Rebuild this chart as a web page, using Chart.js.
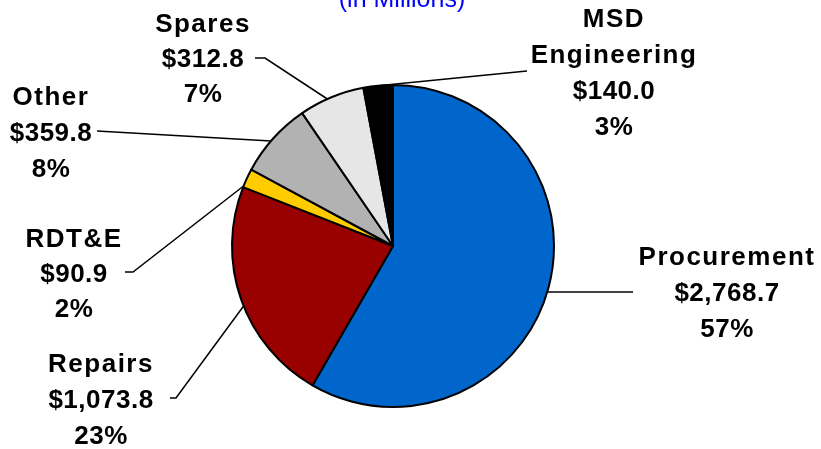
<!DOCTYPE html>
<html>
<head>
<meta charset="utf-8">
<script src="https://cdn.jsdelivr.net/npm/chart.js@4"></script>
<style>
  html, body { margin: 0; padding: 0; background: #fff; }
  #wrap { width: 821px; height: 449px; }
</style>
</head>
<body>
<div id="wrap"><canvas id="pieChart" width="821" height="449"></canvas></div>
<script>
// Data ($ in millions), clockwise from 12 o'clock
const categories = ['Procurement', 'Repairs', 'RDT&E', 'Other', 'Spares', 'MSD Engineering'];
const amounts = [2768.7, 1073.8, 90.9, 359.8, 312.8, 140.0];
const amountLabels = ['$2,768.7', '$1,073.8', '$90.9', '$359.8', '$312.8', '$140.0'];
const percentLabels = ['57%', '23%', '2%', '8%', '7%', '3%'];
const nameLines = [['Procurement'], ['Repairs'], ['RDT&E'], ['Other'], ['Spares'], ['MSD', 'Engineering']];
const subtitle = '(in Millions)';

const sliceColors = ['#0066CC', '#990000', '#FFCC00', '#B2B2B2', '#E6E6E6', '#000000'];

// label placement: text center x, middle of first line, leader path (text end -> elbow),
// and optional hitY = where the leader meets the rim (side: 1 right, -1 left)
const labelLayout = [
    { cx: 727, y: 255, lh: 36, path: [[633, 292]], hitY: 292, side: 1 },
    { cx: 101, y: 362, lh: 36, path: [[170, 398], [176, 398]], hitY: 306, side: -1 },
    { cx: 74,  y: 237, lh: 35, path: [[125, 272], [133, 272]], hitY: 186, side: -1 },
    { cx: 51,  y: 95,  lh: 36, path: [[97, 131]], hitY: 141, side: -1 },
    { cx: 203, y: 22,  lh: 35, path: [[255, 58], [265, 58]], hitY: 99, side: -1 },
    { cx: 614, y: 17,  lh: 36, path: [[527, 71]] }
];

const labelPlugin = {
    id: 'pieLabels',
    afterDatasetsDraw(chart) {
        const ctx = chart.ctx;
        const arcs = chart.getDatasetMeta(0).data;
        ctx.save();

        // leader lines
        ctx.strokeStyle = '#000';
        ctx.lineWidth = 1.5;
        arcs.forEach((arc, i) => {
            const p = arc.getProps(['x', 'y', 'startAngle', 'endAngle', 'outerRadius'], true);
            const lay = labelLayout[i];
            let ex, ey;
            if (lay.hitY !== undefined) {
                const dy = lay.hitY - p.y;
                ex = p.x + lay.side * Math.sqrt(Math.max(p.outerRadius * p.outerRadius - dy * dy, 0));
                ey = lay.hitY;
            } else {
                const mid = (p.startAngle + p.endAngle) / 2;
                ex = p.x + Math.cos(mid) * p.outerRadius;
                ey = p.y + Math.sin(mid) * p.outerRadius;
            }
            ctx.beginPath();
            ctx.moveTo(lay.path[0][0], lay.path[0][1]);
            for (let k = 1; k < lay.path.length; k++) ctx.lineTo(lay.path[k][0], lay.path[k][1]);
            ctx.lineTo(ex, ey);
            ctx.stroke();
        });

        // label text
        ctx.fillStyle = '#000';
        ctx.textAlign = 'center';
        ctx.textBaseline = 'alphabetic';
        arcs.forEach((arc, i) => {
            const lay = labelLayout[i];
            const lines = nameLines[i].concat([amountLabels[i], percentLabels[i]]);
            lines.forEach((txt, k) => {
                const isName = k < nameLines[i].length;
                ctx.font = 'bold 26px "Liberation Sans", Arial, sans-serif';
                ctx.letterSpacing = isName ? '1.5px' : '0.5px';
                ctx.fillText(txt, lay.cx, lay.y + k * lay.lh + 9.5);
            });
        });

        // subtitle (cut off at top of the picture)
        ctx.letterSpacing = '0px';
        ctx.font = '25px "Liberation Sans", Arial, sans-serif';
        ctx.fillStyle = '#0000FF';
        ctx.fillText(subtitle, 402, 7);
        ctx.restore();
    }
};

new Chart(document.getElementById('pieChart').getContext('2d'), {
    type: 'pie',
    data: {
        labels: categories,
        datasets: [{
            data: amounts,
            backgroundColor: sliceColors,
            borderColor: '#000000',
            borderWidth: 2
        }]
    },
    options: {
        responsive: false,
        animation: false,
        layout: { padding: { left: 231, right: 266, top: 84, bottom: 41 } },
        plugins: {
            legend: { display: false },
            tooltip: { enabled: false },
            title: { display: false }
        }
    },
    plugins: [labelPlugin]
});
</script>
</body>
</html>
